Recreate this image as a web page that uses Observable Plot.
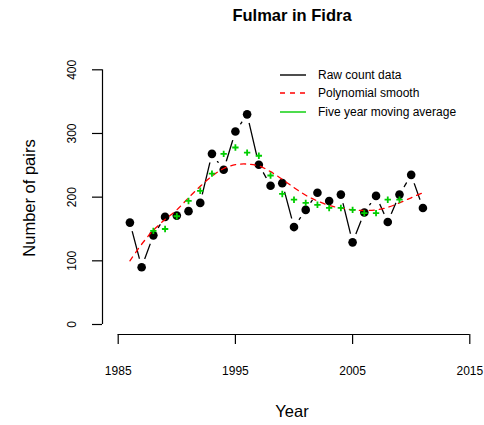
<!DOCTYPE html>
<html>
<head>
<meta charset="utf-8">
<script src="https://cdn.jsdelivr.net/npm/d3@7"></script>
<script src="https://cdn.jsdelivr.net/npm/@observablehq/plot@0.6"></script>
<style>
  html, body { margin: 0; padding: 0; background: #fff; }
  #wrap { position: relative; width: 484px; height: 425px; font-family: "Liberation Sans", Arial, sans-serif; color: #000; }
  #wrap > svg { position: absolute; left: 0; top: 0; }
  .abs { position: absolute; white-space: nowrap; }
  #title { left: 0; width: 584px; top: 6px; text-align: center; font-weight: bold; font-size: 16.5px; }
  #xlab { left: 192px; width: 200px; top: 402px; text-align: center; font-size: 16.5px; }
  #ylab { left: 29px; top: 198px; transform: translate(-50%, -50%) rotate(-90deg); font-size: 16.5px; }
  #legend { left: 280px; top: 66px; font-size: 12px; }
  .lg { display: flex; align-items: center; height: 18.3px; }
  .lg svg { display: block; width: 26px; height: 6px; margin-right: 12px; }
</style>
</head>
<body>
<div id="wrap">
  <div id="title" class="abs">Fulmar in Fidra</div>
  <div id="xlab" class="abs">Year</div>
  <div id="ylab" class="abs">Number of pairs</div>
  <div id="legend" class="abs"></div>
</div>
<script>
// ---- data ----
const years = [1986,1987,1988,1989,1990,1991,1992,1993,1994,1995,1996,1997,1998,1999,2000,2001,2002,2003,2004,2005,2006,2007,2008,2009,2010,2011];
const rawCounts = [160,90,140,169,171,178,191,268,243,303,330,251,218,222,153,180,207,194,204,129,176,202,161,204,235,183];
const smoothValues = [100,126,148,165,180,199,217,233,245,251,252,249,240,228,215,203,194,187,183,180,179,180,184,191,199,207];
const maYears = [1988,1989,1990,1991,1992,1993,1994,1995,1996,1997,1998,1999,2000,2001,2002,2003,2004,2005,2006,2007,2008,2009];
const maValues = [147,150,170,194,210,237,268,278,270,265,234,205,196,191,188,183,183,180,175,175,196,196];
const xTicks = [1985,1995,2005,2015];
const yTicks = [0,100,200,300,400];
const legendLabels = ["Raw count data","Polynomial smooth","Five year moving average"];
const legendColors = ["#000000","#FF0000","#00CD00"];
const legendDash = ["none","5,5","none"];

const raw = years.map((y,i) => ({year: y, value: rawCounts[i]}));
const smooth = years.map((y,i) => ({year: y, value: smoothValues[i]}));
const ma = maYears.map((y,i) => ({year: y, value: maValues[i]}));

const axisOffset = 15.7;
const plot = Plot.plot({
  width: 484,
  height: 425,
  marginLeft: 117.7,
  marginRight: 14.7,
  marginTop: 69.3,
  marginBottom: 101,
  x: {domain: [xTicks[0], xTicks[xTicks.length-1]]},
  y: {domain: [yTicks[0], yTicks[yTicks.length-1]]},
  style: {fontFamily: "Liberation Sans, Arial, sans-serif", background: "white", color: "black"},
  marks: [
    Plot.ruleY([yTicks[0]], {x1: xTicks[0], x2: xTicks[xTicks.length-1], dy: 10, stroke: "#000", strokeWidth: 1.2}),
    Plot.ruleX([xTicks[0]], {y1: yTicks[0], y2: yTicks[yTicks.length-1], dx: -axisOffset, stroke: "#000", strokeWidth: 1.2}),
    Plot.axisX({ticks: xTicks, tickSize: 10, dy: 10, tickPadding: 22, fontSize: 12, label: null, tickFormat: d => String(d), strokeWidth: 1.2}),
    Plot.axisY({ticks: yTicks, tickSize: 10, dx: -axisOffset, tickFormat: () => "", label: null, strokeWidth: 1.2}),
    Plot.text(yTicks, {x: xTicks[0], y: d => d, text: d => String(d), rotate: -90, dx: -46, textAnchor: "middle", lineAnchor: "middle", fontSize: 12}),
    Plot.line(raw, {x: "year", y: "value", stroke: "#000", strokeWidth: 1.3}),
    Plot.dot(raw, {x: "year", y: "value", r: 9, fill: "white", stroke: "none"}),
    Plot.dot(raw, {x: "year", y: "value", r: 4.3, fill: "#000", stroke: "none"}),
    Plot.line(smooth, {x: "year", y: "value", stroke: "#FF0000", strokeWidth: 1.3, strokeDasharray: "5,5", curve: "catmull-rom"}),
    Plot.dot(ma, {x: "year", y: "value", symbol: "plus", r: 2.2, stroke: "#00CD00", strokeWidth: 1.8})
  ]
});
document.getElementById("wrap").prepend(plot);

const lg = document.getElementById("legend");
legendLabels.forEach((t, i) => {
  const row = document.createElement("div");
  row.className = "lg";
  row.innerHTML = `<svg width="26" height="6" viewBox="0 0 26 6"><line x1="0" x2="26" y1="3" y2="3" stroke="${legendColors[i]}" stroke-width="1.4" stroke-dasharray="${legendDash[i]}"/></svg><span>${t}</span>`;
  lg.appendChild(row);
});
</script>
</body>
</html>
